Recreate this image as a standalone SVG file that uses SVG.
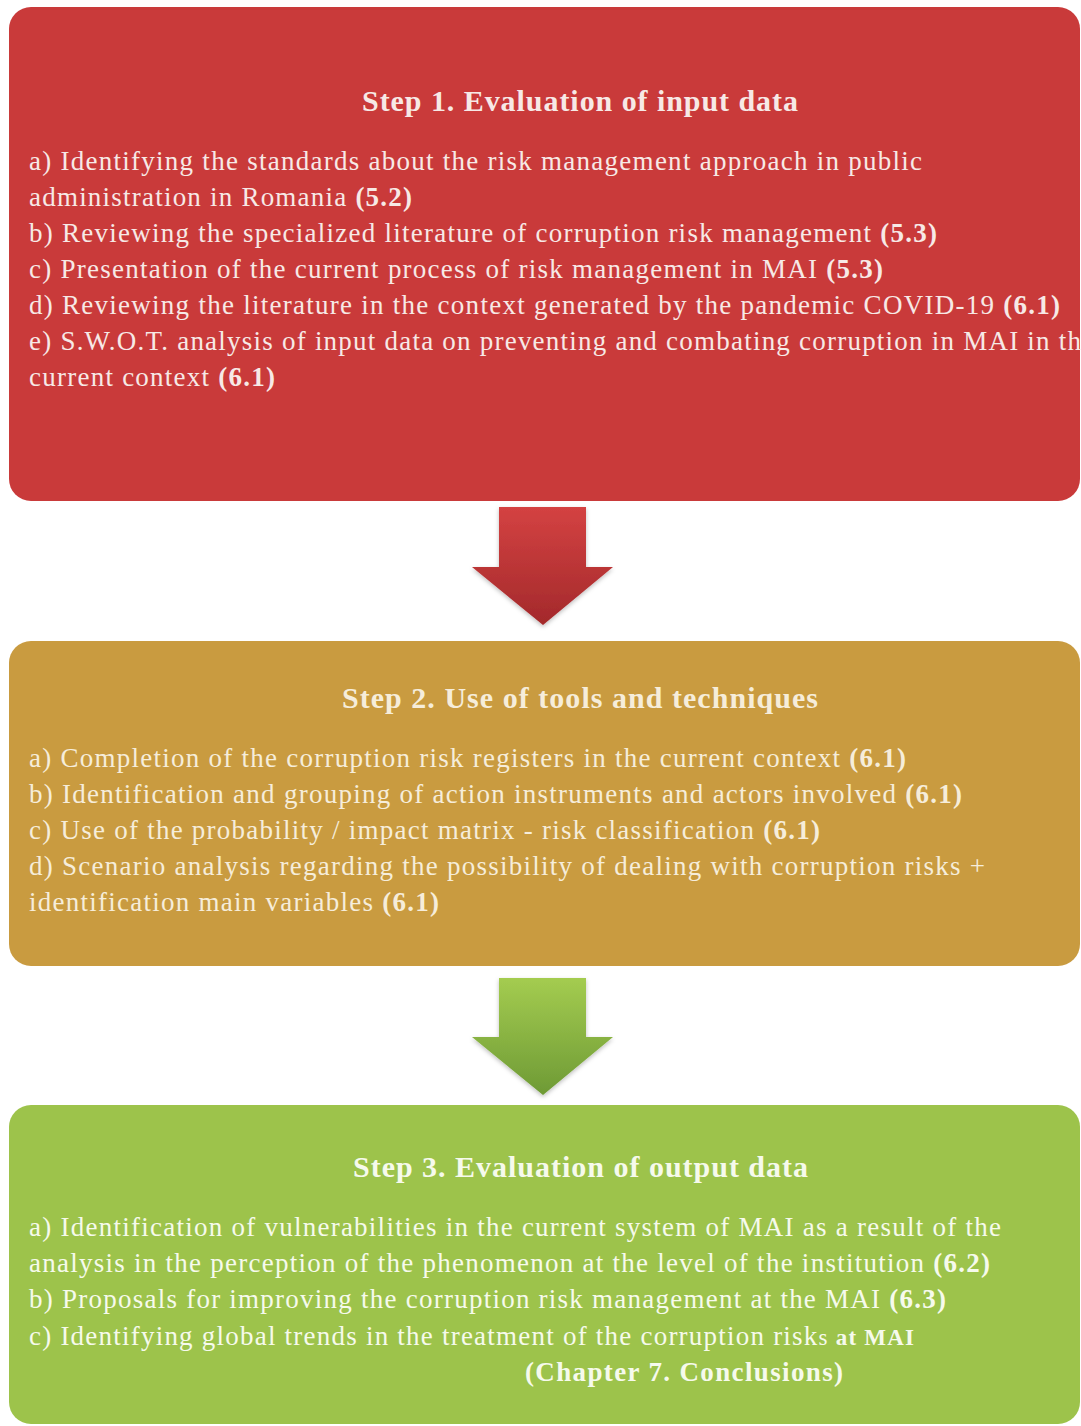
<svg xmlns="http://www.w3.org/2000/svg" width="1081" height="1426" viewBox="0 0 1081 1426">
<style>
  text { font-family: "Liberation Serif", "Times New Roman", serif; font-size: 27px; }
  .title { font-size: 30px; font-weight: bold; }
  .b { font-weight: bold; }
  .t1 { fill: #F7E9E6; }
  .t2 { fill: #F6EDDA; }
  .t3 { fill: #F6FAEC; }
</style>
<defs>
  <linearGradient id="gRed" x1="0" y1="0" x2="0" y2="1">
    <stop offset="0" stop-color="#D44242"/>
    <stop offset="1" stop-color="#A3292B"/>
  </linearGradient>
  <linearGradient id="gGreen" x1="0" y1="0" x2="0" y2="1">
    <stop offset="0" stop-color="#A4CC50"/>
    <stop offset="1" stop-color="#6E9A35"/>
  </linearGradient>
  <filter id="sh" x="-20%" y="-20%" width="140%" height="140%">
    <feDropShadow dx="0" dy="2" stdDeviation="2" flood-color="#000" flood-opacity="0.25"/>
  </filter>
</defs>

<g id="step1">
  <rect x="9" y="7" width="1071" height="494" rx="22" fill="#C93A3A"/>
  <text class="title t1" x="362" y="111" textLength="436" lengthAdjust="spacing">Step 1. Evaluation of input data</text>
  <text class="t1" x="29" y="170" textLength="893" lengthAdjust="spacing">a) Identifying the standards about the risk management approach in public</text>
  <text class="t1" x="29" y="206" textLength="383" lengthAdjust="spacing">administration in Romania <tspan class="b">(5.2)</tspan></text>
  <text class="t1" x="29" y="242" textLength="908" lengthAdjust="spacing">b) Reviewing the specialized literature of corruption risk management <tspan class="b">(5.3)</tspan></text>
  <text class="t1" x="29" y="278" textLength="854" lengthAdjust="spacing">c) Presentation of the current process of risk management in MAI <tspan class="b">(5.3)</tspan></text>
  <text class="t1" x="29" y="314" textLength="1031" lengthAdjust="spacing">d) Reviewing the literature in the context generated by the pandemic COVID-19 <tspan class="b">(6.1)</tspan></text>
  <text class="t1" x="29" y="350" textLength="1052" lengthAdjust="spacing">e) S.W.O.T. analysis of input data on preventing and combating corruption in MAI in th</text>
  <text class="t1" x="29" y="386" textLength="246" lengthAdjust="spacing">current context <tspan class="b">(6.1)</tspan></text>
</g>

<g id="step2">
  <rect x="9" y="641" width="1071" height="325" rx="22" fill="#C99B40"/>
  <text class="title t2" x="342" y="708" textLength="476" lengthAdjust="spacing">Step 2. Use of tools and techniques</text>
  <text class="t2" x="29" y="767" textLength="877" lengthAdjust="spacing">a) Completion of the corruption risk registers in the current context <tspan class="b">(6.1)</tspan></text>
  <text class="t2" x="29" y="803" textLength="933" lengthAdjust="spacing">b) Identification and grouping of action instruments and actors involved <tspan class="b">(6.1)</tspan></text>
  <text class="t2" x="29" y="839" textLength="791" lengthAdjust="spacing">c) Use of the probability / impact matrix - risk classification <tspan class="b">(6.1)</tspan></text>
  <text class="t2" x="29" y="875" textLength="956" lengthAdjust="spacing">d) Scenario analysis regarding the possibility of dealing with corruption risks +</text>
  <text class="t2" x="29" y="911" textLength="410" lengthAdjust="spacing">identification main variables <tspan class="b">(6.1)</tspan></text>
</g>

<g id="step3">
  <rect x="9" y="1105" width="1071" height="319" rx="22" fill="#9DC34B"/>
  <text class="title t3" x="353" y="1177" textLength="455" lengthAdjust="spacing">Step 3. Evaluation of output data</text>
  <text class="t3" x="29" y="1236" textLength="972" lengthAdjust="spacing">a) Identification of vulnerabilities in the current system of MAI as a result of the</text>
  <text class="t3" x="29" y="1272" textLength="961" lengthAdjust="spacing">analysis in the perception of the phenomenon at the level of the institution <tspan class="b">(6.2)</tspan></text>
  <text class="t3" x="29" y="1308" textLength="917" lengthAdjust="spacing">b) Proposals for improving the corruption risk management at the MAI <tspan class="b">(6.3)</tspan></text>
  <text class="t3" x="29" y="1345" textLength="885" lengthAdjust="spacing">c) Identifying global trends in the treatment of the corruption risk<tspan font-size="23">s</tspan><tspan class="b" font-size="23"> at MAI</tspan></text>
  <text class="t3 b" x="525" y="1381" textLength="318" lengthAdjust="spacing">(Chapter 7. Conclusions)</text>
</g>

<g id="connectors">
  <polygon points="499,507 586,507 586,567 613,567 543,625 472,567 499,567" fill="url(#gRed)" filter="url(#sh)"/>
  <polygon points="499,978 586,978 586,1037 613,1037 543,1095 472,1037 499,1037" fill="url(#gGreen)" filter="url(#sh)"/>
</g>
</svg>
